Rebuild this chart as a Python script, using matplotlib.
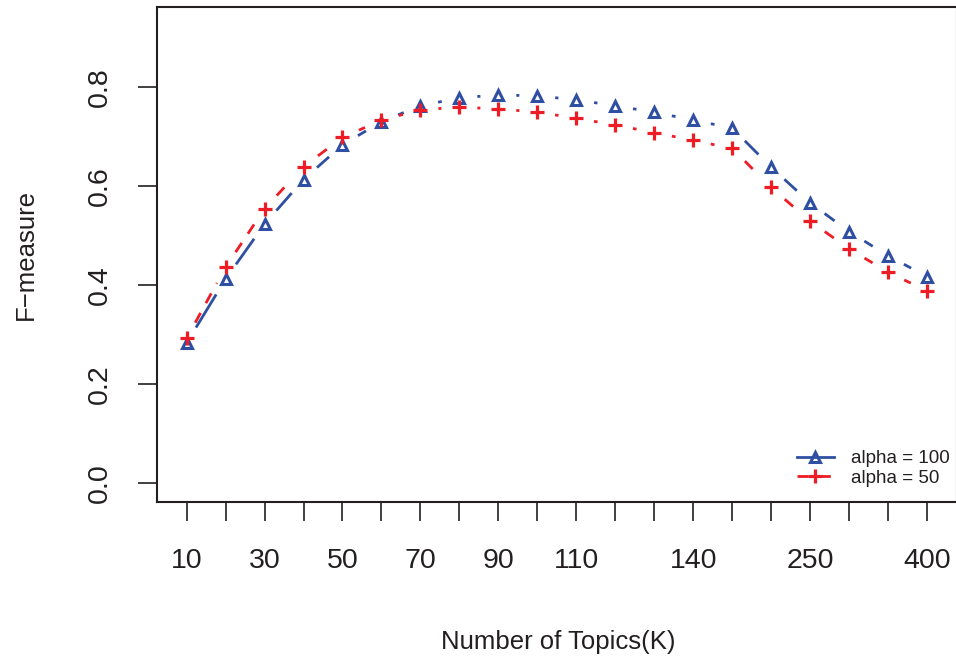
import numpy as np
import matplotlib
matplotlib.use("Agg")
import matplotlib.pyplot as plt
from matplotlib.lines import Line2D

plt.rcParams['font.family'] = ['Liberation Sans', 'DejaVu Sans']
plt.rcParams['lines.scale_dashes'] = False

# number of topics K, one point per value
topics = [10, 20, 30, 40, 50, 60, 70, 80, 90, 100,
          110, 120, 130, 140, 150, 200, 250, 300, 350, 400]
# only some tick labels are printed (R drops the ones that would overlap)
shown_labels = [10, 30, 50, 70, 90, 110, 140, 250, 400]

f_alpha100 = [0.283, 0.412, 0.523, 0.613, 0.683, 0.730, 0.762, 0.778, 0.784, 0.782,
              0.774, 0.762, 0.749, 0.733, 0.717, 0.638, 0.566, 0.508, 0.459, 0.417]
f_alpha50 = [0.292, 0.436, 0.554, 0.639, 0.698, 0.733, 0.754, 0.759, 0.756, 0.749,
             0.737, 0.723, 0.708, 0.692, 0.676, 0.597, 0.529, 0.473, 0.426, 0.388]

blue = '#2F4FA2'
red = '#EE1C25'
ink = '#231F20'

fig = plt.figure(figsize=(9.56, 6.56), dpi=100)
ax = fig.add_axes([157/956, 154/656, 799.6/956, 495.5/656])
x = np.arange(1, len(topics) + 1)
ax.set_xlim(0.24, 20.76)
ax.set_ylim(-0.0384, 0.9626)


# R type="b": segments stop short of the points
def gapped_line(ax, x, y, gap_px, **kw):
    pts = ax.transData.transform(np.column_stack([x, y]))
    inv = ax.transData.inverted()
    for p0, p1 in zip(pts[:-1], pts[1:]):
        d = p1 - p0
        L = np.hypot(d[0], d[1])
        if L <= 2*gap_px:
            continue
        u = d / L
        a = inv.transform(p0 + u*gap_px)
        b = inv.transform(p1 - u*gap_px)
        ax.plot([a[0], b[0]], [a[1], b[1]], solid_capstyle='butt',
                dash_capstyle='butt', **kw)


gapped_line(ax, x, f_alpha100, 18, color=blue, lw=2.0)
ax.plot(x, f_alpha100, linestyle='none', marker='^', ms=7.4, mfc='none',
        mec=blue, mew=2.2)
gapped_line(ax, x, f_alpha50, 18, color=red, lw=2.0, dashes=(8, 8))
ax.plot(x, f_alpha50, linestyle='none', marker='+', ms=9.8, mec=red, mew=2.3)

labels = [str(t) if t in shown_labels else '' for t in topics]
ax.set_xticks(x)
ax.set_xticklabels(labels)
ax.set_yticks([0.0, 0.2, 0.4, 0.6, 0.8])
ax.set_yticklabels(['0.0', '0.2', '0.4', '0.6', '0.8'])
ax.tick_params(axis='both', length=14, width=1.2, color=ink, labelcolor=ink,
               labelsize=20.5, direction='out')
ax.tick_params(axis='x', pad=19)
ax.tick_params(axis='y', pad=17.5, labelrotation=90)
for lab in ax.get_yticklabels():
    lab.set_va('center')

for s in ax.spines.values():
    s.set_linewidth(1.5)
    s.set_color(ink)

fig.text(558/956, 7/656, 'Number of Topics(K)', ha='center', va='baseline',
         fontsize=18.5, color=ink)
fig.text(26/956, 402/656, 'F\u2212measure', ha='center', va='center',
         rotation=90, fontsize=18.5, color=ink)

handles = [Line2D([], [], color=blue, lw=2.0, marker='^', ms=7.4, mfc='none',
                  mec=blue, mew=2.2),
           Line2D([], [], color=red, lw=2.0, dashes=(8, 8), marker='+',
                  ms=9.8, mec=red, mew=2.3)]
ax.legend(handles, ['alpha = 100', 'alpha = 50'], loc='center left',
          bbox_to_anchor=(797/956, 187.5/656), bbox_transform=fig.transFigure,
          frameon=False, fontsize=13.5, borderpad=0, borderaxespad=0,
          handlelength=1.95, handletextpad=0.92, labelspacing=0.15,
          labelcolor=ink)

fig.savefig('out.png', dpi=100)
